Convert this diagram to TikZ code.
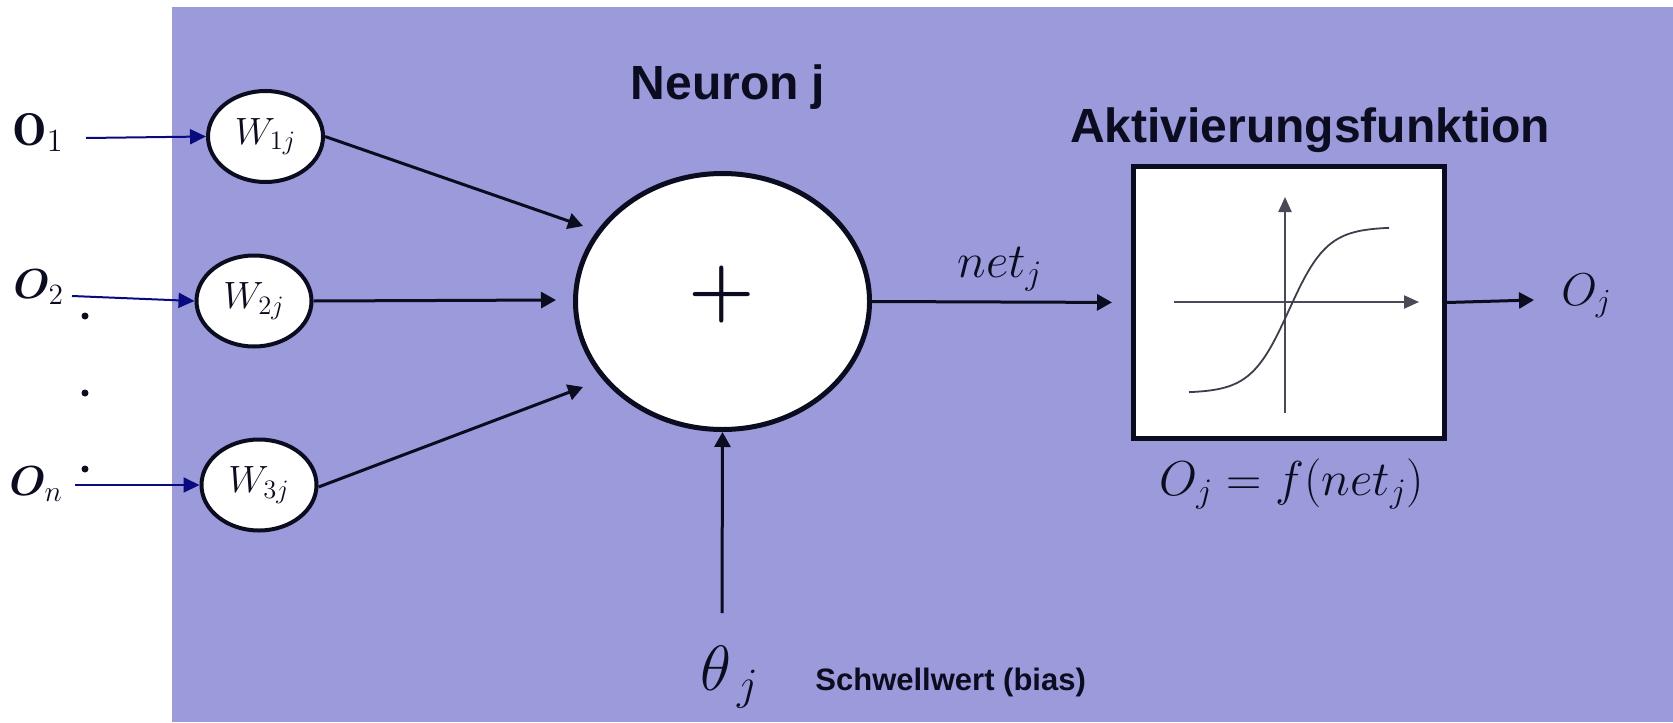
\RequirePackage{fix-cm}
\documentclass[tikz,border=0pt]{standalone}
\usepackage{fontspec}
\usepackage{amsmath}
\usepackage{bm}
\newfontfamily\headfont{Liberation Sans}
\usetikzlibrary{arrows.meta,shapes.geometric}
\definecolor{bgpurple}{RGB}{155,154,219}
\definecolor{ink}{RGB}{12,12,32}
\definecolor{navyc}{RGB}{10,10,128}
\begin{document}
\begin{tikzpicture}[x=0.5pt,y=-0.5pt,
  weight/.style={ellipse, draw=ink, line width=2pt, fill=white, minimum width=57.5pt, minimum height=45.5pt, inner sep=0pt, text=ink, font=\fontsize{19}{19}\selectfont},
  sumnode/.style={ellipse, draw=ink, line width=2.5pt, fill=white, minimum width=147pt, minimum height=128pt, inner sep=0pt},
  actbox/.style={rectangle, draw=ink, line width=2.5pt, fill=white, minimum width=155.5pt, minimum height=136pt, inner sep=0pt},
  conn/.style={draw=ink, line width=1.5pt, -{Triangle[length=7.5pt,width=8pt]}},
  inarrow/.style={draw=navyc, line width=1pt, -{Triangle[length=8pt,width=7.5pt]}},
  sigaxis/.style={draw=ink!75, line width=1.1pt, -{Triangle[length=7.5pt,width=6.5pt]}},
  heading/.style={font=\headfont\bfseries\fontsize{24}{24}\selectfont, text=ink, inner sep=0pt, anchor=base},
  smallhead/.style={font=\headfont\bfseries\fontsize{15.5}{15.5}\selectfont, text=ink, inner sep=0pt, anchor=base west},
  mathlbl/.style={text=ink, inner sep=0pt},
  dotmark/.style={circle, fill=ink, inner sep=0pt, minimum size=3.5pt},
]
\useasboundingbox (0,0) rectangle (1673,722);
\fill[bgpurple] (172,7) rectangle (1673,722);

% headings
\node[heading] (title) at (728,99) {Neuron j};
\node[heading] (acttitle) at (1310,142) {Aktivierungsfunktion};

% weight nodes
\node[weight] (w1) at (265.5,136.5) {$W_{1j}$};
\node[weight] (w2) at (254,301) {$W_{2j}$};
\node[weight] (w3) at (259,485) {$W_{3j}$};

% inputs
\node[mathlbl, anchor=base west, font=\fontsize{23}{23}\selectfont] (o1) at (12,145) {$\mathbf{O}_1$};
\node[mathlbl, anchor=base west, font=\fontsize{21}{21}\selectfont] (o2) at (13,298) {$\bm{O}_2$};
\node[mathlbl, anchor=base west, font=\fontsize{21}{21}\selectfont] (on) at (9,495) {$\bm{O}_n$};
\coordinate (s1) at (86,138);
\coordinate (s2) at (72,296);
\coordinate (s3) at (75,485);
\draw[inarrow] (s1) -- (w1.west);
\draw[inarrow] (s2) -- (w2.west);
\draw[inarrow] (s3) -- (w3.west);
\node[dotmark] (d1) at (85,316) {};
\node[dotmark] (d2) at (85,393) {};
\node[dotmark] (d3) at (85,469) {};

% summation
\node[sumnode] (sum) at (722.5,301.5) {};
\node[mathlbl, font=\fontsize{38}{38}\selectfont] (plus) at (722,294) {$\boldsymbol{+}$};
\coordinate (t1) at (583,226);
\coordinate (t2) at (556,300);
\coordinate (t3) at (583,387);
\draw[conn] (w1.east) -- (t1);
\draw[conn] (w2.east) -- (t2);
\draw[conn] ([yshift=-1pt]w3.east) -- (t3);

% bias
\coordinate (b0) at (722,613);
\draw[conn] (b0) -- (sum.south);
\node[mathlbl, anchor=base west, font=\fontsize{32}{32}\selectfont] (theta) at (700,690) {$\theta_{\,j}$};
\node[smallhead] (bias) at (815,690) {Schwellwert (bias)};

% activation box
\node[actbox] (act) at (1289,302.5) {};
\draw[sigaxis] (1174,302) -- (1419,302);
\draw[sigaxis] (1285,413) -- (1285,197);
\draw[ink!80, line width=0.9pt, domain=-100:100, samples=80, smooth] plot ({1289+\x},{310-83*tanh(\x/38)});

\draw[conn, shorten >=9.5pt] (sum.east) -- (act.west);
\node[mathlbl, anchor=base, font=\fontsize{24.5}{24.5}\selectfont] (net) at (1000,277) {$net_j$};

\coordinate (outend) at (1534,300);
\draw[conn] (act.east) -- (outend);
\node[mathlbl, anchor=base west, font=\fontsize{23}{23}\selectfont] (oj) at (1561,305) {$O_j$};
\node[mathlbl, anchor=base, font=\fontsize{24.5}{24.5}\selectfont] (formula) at (1292,495) {$O_j = f(net_j)$};
\end{tikzpicture}
\end{document}
